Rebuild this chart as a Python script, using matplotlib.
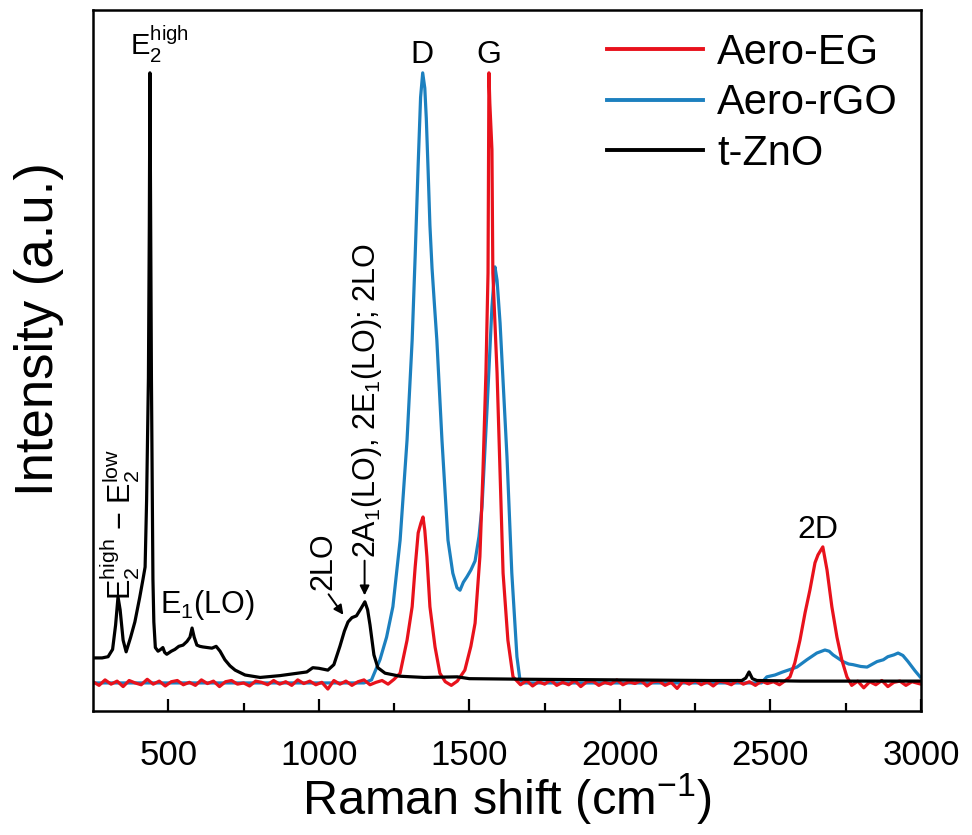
import matplotlib
matplotlib.use("Agg")
import matplotlib.pyplot as plt
from matplotlib.lines import Line2D

plt.rcParams['font.family'] = ['Liberation Sans', 'DejaVu Sans']
plt.rcParams['mathtext.default'] = 'regular'

# t-ZnO
zno_x = [250, 280, 300, 315, 325, 333, 340, 350, 360, 375, 389, 405, 416, 423, 428, 434,
         437, 439, 441, 444, 447, 449, 452, 457, 466, 475, 482, 488, 495, 510, 522, 535,
         549, 562, 572, 579, 586, 595, 605, 615, 630, 645, 659, 672, 688, 705, 722, 755,
         805, 871, 930, 960, 980, 1000, 1030, 1050, 1070, 1085, 1097, 1110, 1125, 1140,
         1153, 1162, 1170, 1183, 1196, 1220, 1270, 1350, 1460, 1500, 1700, 2000, 2300,
         2405, 2418, 2429, 2440, 2455, 2600, 2800, 3000]
zno_y = [0.041, 0.041, 0.043, 0.055, 0.095, 0.141, 0.120, 0.070, 0.051, 0.075, 0.100, 0.140,
         0.170, 0.190, 0.300, 0.500, 0.750, 1.000, 0.800, 0.500, 0.300, 0.170, 0.100, 0.058,
         0.052, 0.055, 0.058, 0.050, 0.047, 0.052, 0.055, 0.060, 0.062, 0.068, 0.075, 0.090,
         0.075, 0.062, 0.060, 0.059, 0.058, 0.057, 0.060, 0.052, 0.038, 0.028, 0.021, 0.013,
         0.009, 0.012, 0.016, 0.018, 0.025, 0.024, 0.021, 0.030, 0.060, 0.085, 0.100, 0.107,
         0.110, 0.122, 0.133, 0.120, 0.095, 0.046, 0.025, 0.016, 0.011, 0.009, 0.010, 0.007,
         0.006, 0.005, 0.004, 0.004, 0.008, 0.018, 0.007, 0.004, 0.003, 0.003, 0.003]

# Aero-rGO
rgo_x = [250, 1150, 1175, 1203, 1225, 1246, 1270, 1293, 1310, 1320, 1330, 1338, 1345, 1352,
         1357, 1363, 1369, 1376, 1384, 1392, 1409, 1429, 1445, 1459, 1469, 1480, 1492, 1505,
         1519, 1532, 1542, 1559, 1575, 1585, 1592, 1602, 1625, 1641, 1658, 1668, 1680, 2470,
         2488, 2515, 2541, 2565, 2588, 2621, 2654, 2681, 2695, 2708, 2741, 2760, 2774, 2800,
         2821, 2854, 2875, 2890, 2910, 2924, 2940, 2957, 2980, 2997]
rgo_y = [0.000, 0.000, 0.005, 0.038, 0.075, 0.125, 0.234, 0.398, 0.562, 0.700, 0.850, 0.960,
         1.000, 0.975, 0.925, 0.840, 0.750, 0.680, 0.620, 0.562, 0.398, 0.234, 0.180, 0.156,
         0.152, 0.165, 0.174, 0.185, 0.200, 0.240, 0.289, 0.452, 0.616, 0.682, 0.660, 0.590,
         0.370, 0.180, 0.043, 0.005, 0.000, 0.000, 0.010, 0.013, 0.018, 0.022, 0.026, 0.038,
         0.049, 0.054, 0.052, 0.046, 0.035, 0.031, 0.030, 0.027, 0.026, 0.035, 0.038, 0.043,
         0.046, 0.049, 0.045, 0.035, 0.020, 0.010]

# Aero-EG
eg_x = [250, 270, 290, 310, 330, 350, 370, 390, 410, 430, 450, 470, 490, 510, 530, 550,
        570, 590, 610, 630, 650, 670, 690, 710, 730, 750, 770, 790, 810, 830, 850, 870,
        890, 910, 930, 950, 970, 990, 1010, 1030, 1050, 1070, 1090, 1110, 1130, 1150, 1170,
        1190, 1210, 1230, 1250, 1270, 1293, 1310, 1320, 1330, 1339, 1346, 1352, 1359, 1369,
        1386, 1402, 1420, 1440, 1460, 1485, 1505, 1519, 1535, 1545, 1555, 1562, 1565, 1568,
        1575, 1578, 1592, 1602, 1612, 1628, 1645, 1670, 1690, 1710, 1730, 1750, 1770, 1790,
        1810, 1830, 1850, 1870, 1890, 1910, 1930, 1950, 1970, 1990, 2010, 2030, 2050, 2070,
        2090, 2110, 2130, 2150, 2170, 2190, 2210, 2230, 2250, 2270, 2290, 2310, 2330, 2350,
        2370, 2390, 2410, 2430, 2450, 2470, 2490, 2510, 2530, 2550, 2565, 2581, 2598, 2615,
        2631, 2648, 2658, 2674, 2688, 2704, 2721, 2737, 2754, 2770, 2790, 2810, 2830, 2850,
        2870, 2890, 2910, 2930, 2950, 2970, 3000]
eg_y = [0.002, -0.004, 0.005, -0.002, 0.003, -0.006, 0.004, 0.000, -0.003, 0.006, -0.002,
        0.003, -0.005, 0.002, 0.004, -0.003, 0.001, -0.004, 0.005, -0.001, 0.003, -0.006,
        0.002, 0.004, -0.002, 0.000, -0.005, 0.003, 0.001, -0.003, 0.004, -0.002, 0.002,
        -0.004, 0.005, -0.001, 0.003, -0.003, 0.001, -0.010, 0.004, -0.002, 0.003, -0.004,
        0.002, 0.005, -0.003, 0.001, 0.004, -0.002, 0.006, 0.016, 0.070, 0.125, 0.190, 0.246,
        0.262, 0.272, 0.250, 0.207, 0.125, 0.059, 0.016, 0.002, -0.004, 0.003, 0.021, 0.060,
        0.098, 0.207, 0.344, 0.508, 0.672, 1.000, 0.950, 0.874, 0.672, 0.508, 0.344, 0.180,
        0.070, 0.010, -0.003, 0.004, -0.005, 0.002, -0.002, 0.005, -0.004, 0.001, -0.003,
        0.004, -0.006, 0.002, 0.003, -0.004, 0.001, -0.002, 0.005, -0.003, 0.002, -0.001,
        0.004, -0.005, 0.002, 0.003, -0.004, 0.001, -0.009, 0.003, -0.002, 0.004, -0.003,
        0.002, -0.005, 0.003, 0.001, -0.003, 0.004, -0.002, 0.002, -0.004, 0.003, -0.001,
        0.002, -0.003, 0.004, 0.010, 0.033, 0.070, 0.115, 0.152, 0.197, 0.210, 0.223, 0.185,
        0.125, 0.075, 0.038, 0.010, -0.004, 0.003, -0.008, 0.002, -0.003, 0.004, -0.006,
        0.001, 0.003, -0.004, 0.002, -0.002]

red = '#e8121c'
blue = '#1c80bf'

fig = plt.figure(figsize=(9.72, 8.35), dpi=100)
ax = fig.add_axes([0.0957, 0.1485, 0.8518, 0.8395])

ax.plot(rgo_x, rgo_y, color=blue, lw=2.3)
ax.plot(eg_x, eg_y, color=red, lw=2.3)
ax.plot(zno_x, zno_y, color='black', lw=2.3)

ax.set_xlim(250, 3000)
ax.set_ylim(-0.046, 1.103)
ax.set_xticks([500, 1000, 1500, 2000, 2500, 3000])
ax.set_xticks([750, 1250, 1750, 2250, 2750], minor=True)
ax.set_yticks([])
ax.tick_params(axis='x', which='major', direction='in', length=9, width=1.6, pad=20,
               labelsize=25)
ax.tick_params(axis='x', which='minor', direction='in', length=5.5, width=1.6)
for s in ax.spines.values():
    s.set_linewidth(1.8)

ax.set_xlabel('Raman shift (cm$^{-1}$)', fontsize=35, labelpad=0)
ax.set_ylabel('Intensity (a.u.)', fontsize=38)
ax.yaxis.set_label_coords(-0.035, 0.545)

# peak labels
ax.text(1343, 1.03, 'D', fontsize=23, ha='center', va='center')
ax.text(1565, 1.03, 'G', fontsize=23, ha='center', va='center')
ax.text(2658, 0.25, '2D', fontsize=23, ha='center', va='center')
ax.text(472, 1.046, 'E$_2^{high}$', fontsize=21, ha='center', va='center')
ax.text(472, 0.128, 'E$_1$(LO)', fontsize=22, ha='left', va='center')
ax.text(340, 0.136, 'E$_2^{high}$ − E$_2^{low}$', fontsize=22, rotation=90,
        ha='center', va='bottom')
ax.text(1014, 0.152, '2LO', fontsize=22, rotation=90, ha='center', va='bottom')
ax.annotate('', xy=(1087, 0.108), xytext=(1027, 0.149),
            arrowprops=dict(arrowstyle='-|>', color='black', lw=1.4, mutation_scale=14))
ax.text(1160, 0.205, '2A$_1$(LO), 2E$_1$(LO); 2LO', fontsize=22, rotation=90,
        ha='center', va='bottom')
ax.annotate('', xy=(1152, 0.139), xytext=(1152, 0.205),
            arrowprops=dict(arrowstyle='-|>', color='black', lw=1.4, mutation_scale=14))

handles = [Line2D([], [], color=red, lw=2.8),
           Line2D([], [], color=blue, lw=2.8),
           Line2D([], [], color='black', lw=2.8)]
ax.legend(handles, ['Aero-EG', 'Aero-rGO', 't-ZnO'], loc='upper right', frameon=False,
          fontsize=30, handlelength=2.3, handletextpad=0.35, labelspacing=0.25,
          borderaxespad=0.15, bbox_to_anchor=(1.0, 1.0))

fig.savefig('out.png', dpi=100)
